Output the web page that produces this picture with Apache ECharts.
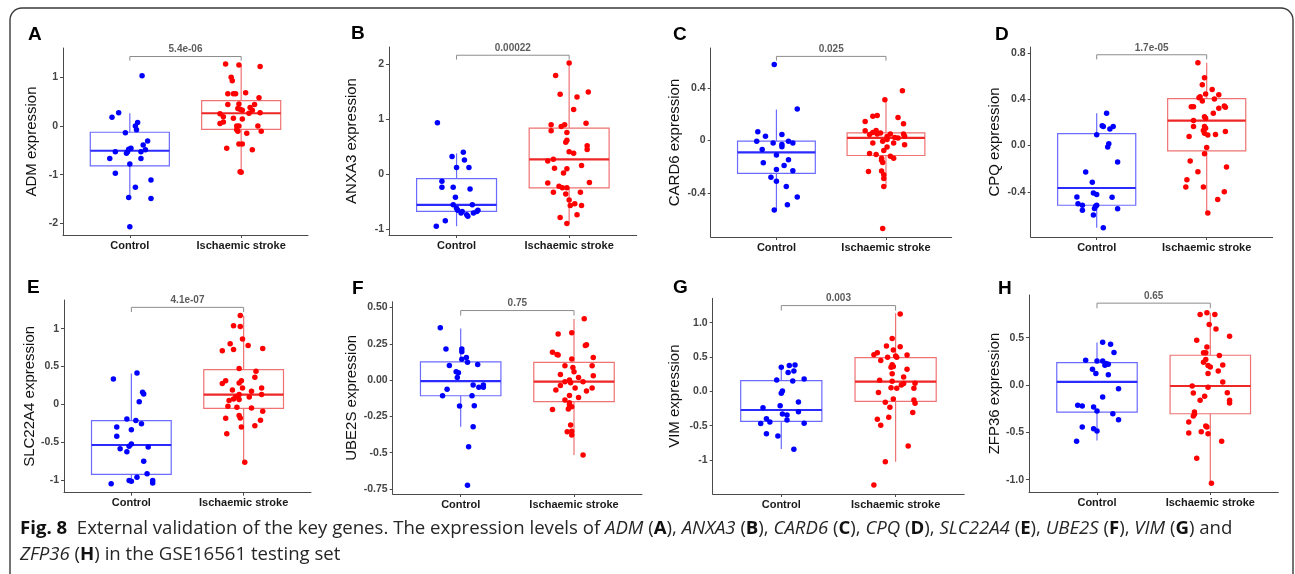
<!DOCTYPE html>
<html>
<head>
<meta charset="utf-8">
<script src="https://cdn.jsdelivr.net/npm/echarts@6/dist/echarts.min.js"></script>
<style>
html,body{margin:0;padding:0;background:#fff;}
#chart{width:1295px;height:574px;}
</style>
</head>
<body>
<div id="chart"></div>
<script>
// ---------------- DATA ----------------
const genes = ['ADM','ANXA3','CARD6','CPQ','SLC22A4','UBE2S','VIM','ZFP36'];
const panelLetters = ['A','B','C','D','E','F','G','H'];
const groups = ['Control','Ischaemic stroke'];
const pValues = ['5.4e-06','0.00022','0.025','1.7e-05','4.1e-07','0.75','0.003','0.65'];
const bracketTop = [1.425, 2.17, 0.641, 0.783, 1.283, 0.479, 1.248, 0.864];
const bracketLow = [1.34, 2.09, 0.609, 0.743, 1.22, 0.444, 1.175, 0.81];
const yMin = [-2.24, -1.11, -0.735, -0.79, -1.17, -0.785, -1.495, -1.13];
const yMax = [1.60, 2.32, 0.705, 0.85, 1.38, 0.54, 1.354, 0.95];
const yTicks = [[-2,-1,0,1],[-1,0,1,2],[-0.4,0,0.4],[-0.4,0,0.4,0.8],[-1,-0.5,0,0.5,1],[-0.75,-0.5,-0.25,0,0.25,0.5],[-1,-0.5,0,0.5,1],[-1,-0.5,0,0.5]];
const yTickLabels = [['-2','-1','0','1'],['-1','0','1','2'],['-0.4','0','0.4'],['-0.4','0.0','0.4','0.8'],['-1','-0.5','0','0.5','1'],['-0.75','-0.5','-0.25','0.00','0.25','0.50'],['-1','-0.5','0.0','0.5','1.0'],['-1.0','-0.5','0.0','0.5']];

// box stats per group: [lower whisker, Q1, median, Q3, upper whisker]
const ADM_box = [[-1.49,-0.82,-0.51,-0.13,0.26],[-0.95,-0.07,0.26,0.52,1.25]];
const ANXA3_box = [[-0.95,-0.68,-0.56,-0.08,0.38],[-0.90,-0.25,0.27,0.84,2.03]];
const CARD6_box = [[-0.53,-0.25,-0.09,-0.005,0.236],[-0.35,-0.114,0.02,0.058,0.31]];
const CPQ_box = [[-0.71,-0.516,-0.367,0.103,0.278],[-0.582,-0.046,0.215,0.404,0.713]];
const SLC22A4_box = [[-1.05,-0.927,-0.539,-0.216,0.406],[-0.768,-0.053,0.128,0.459,1.174]];
const UBE2S_box = [[-0.322,-0.108,-0.007,0.126,0.356],[-0.517,-0.149,-0.011,0.122,0.421]];
const VIM_box = [[-0.84,-0.437,-0.272,0.155,0.374],[-1.024,-0.146,0.141,0.49,1.136]];
const ZFP36_box = [[-0.586,-0.286,0.032,0.236,0.448],[-1.038,-0.304,-0.011,0.314,0.762]];

// jittered points: [jitter offset from group position, expression]
const ADM_ctrl = [[0.11,1.03],[-0.10,0.27],[-0.16,0.18],[0.07,0.07],[0.05,0.0],[0.06,-0.08],[-0.04,-0.14],[0.16,-0.31],[0.12,-0.39],[0.01,-0.46],[-0.01,-0.48],[0.14,-0.49],[-0.13,-0.53],[-0.03,-0.56],[-0.02,-0.53],[0.10,-0.53],[-0.18,-0.67],[0.10,-0.67],[0.0,-0.78],[-0.13,-0.97],[0.19,-1.11],[0.05,-1.26],[-0.01,-1.47],[0.19,-1.49],[0.0,-2.07]];
const ADM_stroke = [[-0.14,1.27],[-0.02,1.25],[0.17,1.22],[-0.09,1.0],[-0.08,0.93],[0.04,0.68],[-0.12,0.66],[-0.07,0.66],[-0.05,0.66],[0.16,0.58],[-0.02,0.45],[-0.12,0.44],[0.12,0.44],[0.08,0.38],[-0.03,0.36],[-0.01,0.34],[0.01,0.32],[0.10,0.32],[0.17,0.27],[0.07,0.26],[-0.19,0.25],[-0.16,0.19],[-0.07,0.16],[0.01,0.14],[-0.16,0.08],[-0.19,0.05],[-0.04,0.0],[-0.02,0.0],[0.15,0.0],[-0.04,-0.08],[-0.03,-0.11],[0.18,-0.11],[0.05,-0.15],[-0.02,-0.37],[0.01,-0.37],[-0.13,-0.46],[0.10,-0.49],[-0.01,-0.94],[0.0,-0.95]];
const ANXA3_ctrl = [[-0.17,0.94],[0.06,0.40],[-0.04,0.32],[0.07,0.26],[0.0,0.12],[0.11,0.12],[-0.13,-0.13],[-0.13,-0.24],[-0.03,-0.24],[0.12,-0.27],[-0.01,-0.42],[-0.03,-0.56],[0.14,-0.56],[0.0,-0.62],[0.01,-0.66],[0.19,-0.66],[0.18,-0.68],[0.05,-0.68],[0.04,-0.71],[0.15,-0.71],[0.09,-0.74],[0.10,-0.77],[-0.10,-0.85],[-0.18,-0.95]];
const ANXA3_stroke = [[0.0,2.03],[-0.12,1.80],[0.17,1.50],[-0.08,1.46],[0.07,1.41],[0.04,1.18],[0.15,0.93],[-0.16,0.90],[-0.04,0.90],[-0.07,0.87],[-0.16,0.79],[-0.02,0.76],[-0.02,0.62],[-0.03,0.58],[0.16,0.52],[0.16,0.45],[0.0,0.41],[-0.14,0.27],[-0.19,0.24],[0.11,0.16],[-0.13,0.11],[-0.02,0.10],[-0.05,0.02],[-0.19,-0.16],[0.18,-0.15],[-0.09,-0.22],[-0.06,-0.25],[-0.02,-0.25],[-0.14,-0.33],[-0.03,-0.36],[0.10,-0.33],[0.05,-0.54],[0.01,-0.57],[0.11,-0.57],[0.07,-0.74],[-0.08,-0.79],[-0.02,-0.90],[0.0,-0.47],[0.04,0.38]];
const CARD6_ctrl = [[-0.02,0.58],[0.19,0.24],[-0.17,0.066],[-0.10,0.033],[0.05,0.046],[-0.18,-0.005],[-0.03,-0.018],[0.11,-0.005],[0.15,-0.018],[0.05,-0.03],[0.05,-0.048],[-0.13,-0.069],[0.0,-0.11],[0.11,-0.147],[-0.12,-0.17],[0.07,-0.19],[0.0,-0.22],[0.15,-0.23],[-0.05,-0.28],[0.0,-0.31],[0.09,-0.35],[0.19,-0.43],[0.10,-0.49],[-0.02,-0.53]];
const CARD6_stroke = [[0.15,0.38],[-0.01,0.31],[-0.08,0.19],[-0.12,0.185],[0.11,0.175],[-0.19,0.145],[0.16,0.127],[-0.19,0.074],[-0.09,0.076],[-0.12,0.061],[-0.15,0.046],[-0.05,0.058],[0.04,0.05],[0.16,0.05],[-0.08,0.05],[0.17,0.033],[0.01,0.03],[0.08,0.023],[0.11,0.02],[-0.03,-0.005],[0.17,-0.033],[0.01,-0.05],[-0.02,-0.076],[-0.15,-0.099],[-0.09,-0.107],[0.04,-0.12],[0.07,-0.135],[-0.04,-0.135],[-0.04,-0.15],[-0.03,-0.168],[-0.16,-0.236],[-0.04,-0.233],[-0.02,-0.26],[-0.02,-0.29],[-0.02,-0.35],[-0.03,-0.67],[0.01,0.008],[-0.12,-0.018],[0.07,-0.018]];
const CPQ_ctrl = [[0.06,-0.71],[0.09,0.278],[0.05,0.17],[0.06,0.163],[0.15,0.163],[0.12,0.143],[0.0,0.092],[0.11,0.014],[0.10,-0.014],[0.19,-0.143],[-0.10,-0.23],[-0.04,-0.318],[-0.03,-0.41],[0.0,-0.424],[-0.18,-0.444],[0.14,-0.447],[-0.17,-0.504],[-0.13,-0.516],[-0.01,-0.524],[0.0,-0.516],[-0.02,-0.544],[0.19,-0.547],[-0.13,-0.559],[-0.03,-0.60]];
const CPQ_stroke = [[-0.08,0.713],[-0.02,0.585],[-0.04,0.524],[0.05,0.484],[-0.01,0.444],[0.11,0.438],[-0.06,0.421],[-0.07,0.413],[0.07,0.401],[-0.04,0.384],[-0.14,0.335],[-0.12,0.335],[0.16,0.341],[0.17,0.33],[0.11,0.321],[-0.02,0.249],[-0.01,0.235],[-0.12,0.215],[-0.02,0.163],[-0.01,0.149],[-0.03,0.129],[0.17,0.12],[-0.02,0.106],[0.08,0.095],[-0.16,0.077],[0.0,-0.017],[-0.02,-0.072],[-0.15,-0.135],[0.18,-0.186],[-0.08,-0.226],[-0.18,-0.295],[-0.19,-0.358],[-0.03,-0.358],[0.16,-0.40],[0.10,-0.467],[0.01,-0.582],[0.01,0.09],[-0.12,0.163],[0.06,0.278]];
const SLC22A4_ctrl = [[0.05,0.415],[-0.16,0.336],[0.10,0.159],[0.11,0.137],[0.07,0.035],[-0.04,-0.194],[0.04,-0.216],[0.09,-0.256],[-0.13,-0.30],[0.0,-0.336],[-0.13,-0.424],[0.0,-0.525],[-0.02,-0.556],[0.15,-0.565],[-0.10,-0.59],[-0.04,-0.627],[0.11,-0.755],[0.14,-0.918],[0.05,-0.967],[-0.02,-1.01],[0.0,-1.02],[0.19,-1.01],[0.19,-1.04],[-0.18,-1.05]];
const SLC22A4_stroke = [[-0.03,1.174],[-0.09,1.04],[-0.03,1.03],[-0.12,0.80],[-0.01,0.865],[0.04,0.777],[0.17,0.737],[-0.09,0.724],[-0.19,0.71],[-0.04,0.472],[0.11,0.437],[0.10,0.358],[-0.16,0.313],[-0.02,0.313],[-0.19,0.274],[-0.04,0.283],[-0.01,0.216],[0.16,0.216],[0.07,0.172],[-0.04,0.128],[0.16,0.128],[0.05,0.097],[-0.07,0.097],[-0.09,0.071],[-0.04,0.062],[-0.13,0.049],[-0.14,-0.026],[-0.06,-0.04],[0.07,-0.049],[0.17,-0.093],[-0.04,-0.15],[-0.03,-0.18],[-0.16,-0.185],[0.15,-0.21],[0.10,-0.283],[-0.02,-0.30],[-0.15,-0.389],[0.01,-0.768],[-0.10,0.19]];
const UBE2S_ctrl = [[-0.18,0.361],[-0.13,0.214],[0.01,0.214],[0.01,0.195],[0.05,0.156],[0.01,0.143],[0.06,0.122],[0.15,0.108],[-0.10,0.101],[-0.04,0.057],[-0.02,0.051],[-0.03,0.018],[0.11,-0.034],[0.20,-0.034],[0.20,-0.05],[0.16,-0.05],[-0.12,-0.064],[-0.16,-0.108],[0.10,-0.108],[-0.01,-0.179],[0.12,-0.177],[0.11,-0.322],[0.07,-0.46],[0.06,-0.724]];
const UBE2S_stroke = [[0.09,0.423],[-0.14,0.317],[-0.02,0.326],[0.11,0.244],[0.10,0.239],[-0.19,0.191],[-0.15,0.177],[-0.14,0.172],[0.17,0.156],[-0.02,0.145],[-0.08,0.099],[0.16,0.099],[-0.01,0.087],[0.0,0.057],[-0.12,0.039],[0.17,0.030],[0.04,0.018],[-0.04,0.0],[-0.08,-0.011],[-0.03,-0.018],[0.08,-0.011],[-0.12,-0.037],[0.16,-0.055],[0.01,-0.055],[-0.16,-0.069],[0.11,-0.076],[-0.04,-0.106],[0.04,-0.12],[-0.08,-0.138],[-0.04,-0.156],[-0.04,-0.172],[-0.02,-0.184],[-0.05,-0.20],[-0.19,-0.202],[-0.03,-0.31],[-0.06,-0.356],[-0.02,-0.352],[-0.02,-0.379],[0.08,-0.517]];
const VIM_ctrl = [[0.12,0.383],[0.07,0.374],[0.0,0.35],[0.11,0.296],[0.06,0.272],[0.20,0.18],[-0.04,0.165],[0.10,0.15],[0.01,0.005],[0.0,-0.03],[0.15,-0.155],[-0.01,-0.209],[-0.16,-0.238],[0.15,-0.296],[0.01,-0.33],[0.05,-0.345],[-0.13,-0.398],[0.05,-0.417],[-0.10,-0.447],[-0.18,-0.47],[0.20,-0.466],[-0.13,-0.617],[-0.03,-0.65],[0.11,-0.845]];
const VIM_stroke = [[0.04,1.126],[-0.03,0.767],[0.04,0.65],[-0.08,0.66],[-0.16,0.563],[-0.19,0.534],[0.10,0.529],[-0.02,0.60],[0.0,0.515],[-0.07,0.495],[0.01,0.495],[-0.13,0.447],[-0.03,0.388],[-0.02,0.36],[-0.04,0.35],[0.10,0.32],[-0.03,0.257],[0.07,0.209],[-0.14,0.16],[-0.03,0.146],[0.17,0.117],[0.07,0.112],[-0.04,0.053],[0.01,0.044],[0.16,0.044],[-0.15,-0.019],[-0.02,-0.112],[0.16,-0.126],[0.17,-0.175],[-0.09,-0.16],[-0.05,-0.233],[0.15,-0.31],[-0.06,-0.379],[-0.16,-0.408],[-0.13,-0.495],[0.11,-0.796],[-0.09,-1.024],[-0.19,-1.364],[0.05,0.092]];
const ZFP36_ctrl = [[0.05,0.452],[0.12,0.431],[0.15,0.342],[-0.10,0.261],[0.0,0.254],[0.05,0.254],[0.08,0.226],[0.10,0.219],[0.07,0.208],[-0.04,0.166],[-0.01,0.12],[0.10,0.109],[0.19,-0.039],[0.05,-0.127],[-0.17,-0.215],[-0.13,-0.222],[-0.03,-0.233],[0.0,-0.275],[0.14,-0.304],[0.19,-0.367],[-0.13,-0.445],[-0.03,-0.462],[0.0,-0.487],[-0.18,-0.593]];
const ZFP36_stroke = [[-0.03,0.762],[-0.09,0.745],[0.04,0.745],[-0.01,0.639],[0.05,0.59],[0.17,0.515],[-0.12,0.473],[-0.03,0.40],[-0.06,0.339],[-0.04,0.339],[0.08,0.31],[-0.04,0.268],[-0.06,0.24],[0.11,0.212],[-0.02,0.205],[0.0,0.19],[0.07,0.148],[-0.02,0.12],[0.11,0.032],[-0.16,-0.011],[-0.02,-0.025],[-0.15,-0.085],[0.15,-0.081],[-0.05,-0.12],[-0.09,-0.162],[0.17,-0.162],[0.17,-0.19],[-0.14,-0.286],[-0.14,-0.31],[-0.15,-0.328],[-0.19,-0.392],[-0.04,-0.434],[-0.03,-0.445],[-0.19,-0.508],[-0.08,-0.494],[-0.02,-0.515],[0.10,-0.593],[-0.12,-0.773],[0.01,-1.038]];

const boxes = [ADM_box, ANXA3_box, CARD6_box, CPQ_box, SLC22A4_box, UBE2S_box, VIM_box, ZFP36_box];
const ctrlPoints = [ADM_ctrl, ANXA3_ctrl, CARD6_ctrl, CPQ_ctrl, SLC22A4_ctrl, UBE2S_ctrl, VIM_ctrl, ZFP36_ctrl];
const strokePoints = [ADM_stroke, ANXA3_stroke, CARD6_stroke, CPQ_stroke, SLC22A4_stroke, UBE2S_stroke, VIM_stroke, ZFP36_stroke];

// ---------------- LAYOUT / STYLE ----------------
const layout = [
  {left:63,    top:48,    width:245,   height:187,   gap:24, lx:28,  ly:35},
  {left:389,   top:47,    width:247.7, height:188,   gap:30, lx:351, ly:34},
  {left:710.7, top:48,    width:241,   height:189,   gap:28, lx:673, ly:35},
  {left:1030.7,top:47,    width:242,   height:190,   gap:28, lx:995, ly:35},
  {left:64,    top:300,   width:247,   height:192.7, gap:25, lx:27,  ly:288},
  {left:392.7, top:301.7, width:249.3, height:192.3, gap:33, lx:352, ly:289},
  {left:712.7, top:298.3, width:251.5, height:195.7, gap:30, lx:673, ly:288},
  {left:1029,  top:295,   width:249.3, height:197,   gap:26, lx:998, ly:289}
];
const BOX_W = 0.71;
const colors = {
  ctrl:   {pt:'#0000ff', box:'#6b6bff', med:'#2b2bff'},
  stroke: {pt:'#ff0000', box:'#f07272', med:'#ee2626'}
};
const axisCol = '#4a4a4a';

function fmtTick(i){
  return function(v){
    const k = yTicks[i].findIndex(t => Math.abs(t - v) < 1e-9);
    return k >= 0 ? yTickLabels[i][k] : '';
  };
}

function boxRenderer(c){
  return function(params, api){
    const x = api.value(0);
    const lo = api.value(1), q1 = api.value(2), med = api.value(3), q3 = api.value(4), hi = api.value(5);
    const h = BOX_W / 2;
    const tl = api.coord([x - h, q3]);
    const br = api.coord([x + h, q1]);
    const mL = api.coord([x - h, med]);
    const mR = api.coord([x + h, med]);
    const pHi = api.coord([x, hi]);
    const pQ3 = api.coord([x, q3]);
    const pQ1 = api.coord([x, q1]);
    const pLo = api.coord([x, lo]);
    return {
      type:'group',
      children:[
        {type:'line', shape:{x1:pHi[0],y1:pHi[1],x2:pQ3[0],y2:pQ3[1]}, style:{stroke:c.box, lineWidth:1.2}},
        {type:'line', shape:{x1:pQ1[0],y1:pQ1[1],x2:pLo[0],y2:pLo[1]}, style:{stroke:c.box, lineWidth:1.2}},
        {type:'rect', shape:{x:tl[0], y:tl[1], width:br[0]-tl[0], height:br[1]-tl[1]}, style:{stroke:c.box, fill:'rgba(255,255,255,0)', lineWidth:1.2}},
        {type:'line', shape:{x1:mL[0],y1:mL[1],x2:mR[0],y2:mR[1]}, style:{stroke:c.med, lineWidth:2.2}}
      ]
    };
  };
}

const grid = [], xAxis = [], yAxis = [], series = [], graphic = [];

genes.forEach((g, i) => {
  const L = layout[i];
  grid.push({left:L.left, top:L.top, width:L.width, height:L.height, containLabel:false});
  xAxis.push({
    type:'value', gridIndex:i, min:0.4, max:2.6,
    splitLine:{show:false},
    axisLine:{show:true, onZero:false, lineStyle:{color:axisCol, width:1}},
    axisTick:{show:true, length:3, lineStyle:{color:axisCol}, customValues:[1,2]},
    axisLabel:{show:true, customValues:[1,2], margin:5, color:'#1a1a1a', fontFamily:'Liberation Sans, Arial, sans-serif', fontWeight:'bold', fontSize:11,
      formatter: v => groups[Math.round(v) - 1] || ''}
  });
  yAxis.push({
    type:'value', gridIndex:i, min:yMin[i], max:yMax[i],
    name: g + ' expression', nameLocation:'middle', nameRotate:90, nameGap:L.gap,
    nameTextStyle:{fontFamily:'Liberation Sans, Arial, sans-serif', fontSize:15, color:'#111', verticalAlign:'bottom'},
    splitLine:{show:false},
    axisLine:{show:true, onZero:false, lineStyle:{color:axisCol, width:1}},
    axisTick:{show:true, length:3, lineStyle:{color:axisCol}, customValues:yTicks[i]},
    axisLabel:{show:true, customValues:yTicks[i], margin:5, color:'#444', fontFamily:'Liberation Sans, Arial, sans-serif', fontWeight:'bold', fontSize:10.5,
      formatter: fmtTick(i)}
  });
  // boxes
  series.push({type:'custom', xAxisIndex:i, yAxisIndex:i, renderItem:boxRenderer(colors.ctrl), data:[[1].concat(boxes[i][0])], z:2, silent:true});
  series.push({type:'custom', xAxisIndex:i, yAxisIndex:i, renderItem:boxRenderer(colors.stroke), data:[[2].concat(boxes[i][1])], z:2, silent:true});
  // jittered points
  series.push({type:'scatter', xAxisIndex:i, yAxisIndex:i, symbolSize:5.5, z:3,
    itemStyle:{color:colors.ctrl.pt, opacity:1}, data: ctrlPoints[i].map(p => [1 + p[0], p[1]])});
  series.push({type:'scatter', xAxisIndex:i, yAxisIndex:i, symbolSize:5.5, z:3,
    itemStyle:{color:colors.stroke.pt, opacity:1}, data: strokePoints[i].map(p => [2 + p[0], p[1]])});
  // significance bracket
  series.push({type:'line', xAxisIndex:i, yAxisIndex:i, symbol:'none', silent:true, z:2,
    lineStyle:{color:'#8c8c8c', width:1},
    data:[[1, bracketLow[i]],[1, bracketTop[i]],[2, bracketTop[i]],[2, bracketLow[i]]]});
  series.push({type:'scatter', xAxisIndex:i, yAxisIndex:i, symbolSize:0, silent:true, z:4,
    data:[[1.5, bracketTop[i]]],
    label:{show:true, position:'top', distance:2, formatter: () => pValues[i],
      fontFamily:'Liberation Sans, Arial, sans-serif', fontWeight:'bold', fontSize:10, color:'#333'}});
  graphic.push({type:'text', left:L.lx, top:L.ly - 10, style:{text:panelLetters[i], font:'bold 19px "Liberation Sans", Arial, sans-serif', fill:'#000'}});
});

// outer frame
graphic.push({type:'rect', shape:{x:10, y:8, width:1283, height:590, r:12}, style:{fill:'none', stroke:'#3a3a3a', lineWidth:1.4}, z:-1});
// caption
graphic.push({type:'text', left:20, top:516, style:{
  text:'{b|Fig. 8}  External validation of the key genes. The expression levels of {i|ADM} ({b|A}), {i|ANXA3} ({b|B}), {i|CARD6} ({b|C}), {i|CPQ} ({b|D}), {i|SLC22A4} ({b|E}), {i|UBE2S} ({b|F}), {i|VIM} ({b|G}) and\n{i|ZFP36} ({b|H}) in the GSE16561 testing set',
  font:'18.6px "Open Sans", sans-serif', fill:'#262626', lineHeight:26,
  rich:{
    b:{fontWeight:'bold', fontFamily:'"Open Sans", sans-serif', fontSize:18.6, fill:'#111', lineHeight:26},
    i:{fontStyle:'italic', fontFamily:'"Open Sans", sans-serif', fontSize:18.6, fill:'#262626', lineHeight:26}
  }
}});

const chart = echarts.init(document.getElementById('chart'), null, {renderer:'canvas'});
chart.setOption({animation:false, backgroundColor:'#fff', grid, xAxis, yAxis, series, graphic});
</script>
</body>
</html>
